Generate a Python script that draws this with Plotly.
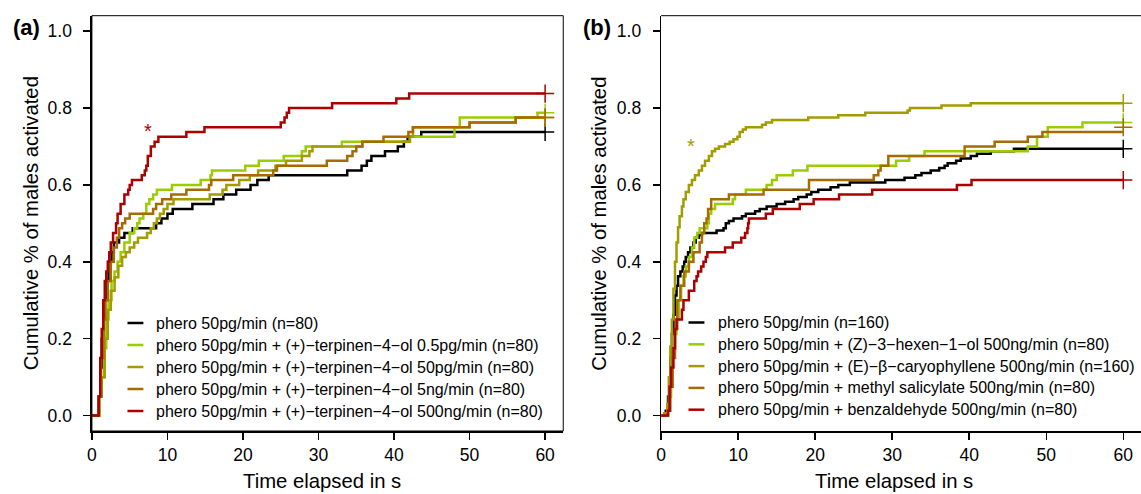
import plotly.graph_objects as go

W, H = 1141, 494
FONT = "Liberation Sans, Arial, Helvetica, sans-serif"

# ---------------- data (time in s, cumulative proportion) ----------------
# Panel (a)
black_a_t = [0, 0.9, 1.1, 1.3, 1.5, 1.7, 1.9, 2.2, 2.6, 2.9, 3.6, 4.3, 5.4, 8.5, 9.2, 10.0, 10.7, 13.3, 16.1, 17.4, 19.1, 21.0, 21.9, 23.4, 33.8, 35.7, 36.4, 37.0, 38.8, 40.5, 41.3, 41.8, 43.6, 60]
black_a_v = [0, 0.05, 0.125, 0.2, 0.25, 0.3, 0.35, 0.4, 0.425, 0.45, 0.4625, 0.475, 0.4875, 0.5, 0.5125, 0.525, 0.5375, 0.55, 0.5625, 0.575, 0.5875, 0.6, 0.6125, 0.625, 0.6375, 0.65, 0.6625, 0.675, 0.6875, 0.7, 0.7125, 0.725, 0.7375, 0.7375]

green_a_t = [0, 1.0, 1.3, 1.6, 1.9, 2.2, 2.6, 3.0, 3.4, 3.8, 4.3, 5.0, 5.6, 6.0, 6.3, 6.8, 7.2, 7.6, 8.1, 8.6, 10.6, 14.4, 15.7, 15.9, 20.3, 22.1, 25.4, 27.8, 28.3, 33.1, 42.1, 48.0, 48.7, 59.0, 60]
green_a_v = [0, 0.05, 0.1, 0.175, 0.25, 0.3, 0.35, 0.375, 0.4, 0.425, 0.45, 0.475, 0.4875, 0.5, 0.5125, 0.525, 0.55, 0.5625, 0.575, 0.5875, 0.6, 0.6125, 0.625, 0.6375, 0.65, 0.6625, 0.675, 0.6875, 0.7, 0.7125, 0.725, 0.75, 0.775, 0.7875, 0.7875]

olive_a_t = [0, 1.0, 1.3, 1.7, 2.1, 2.5, 3.0, 3.5, 4.0, 4.5, 5.0, 5.6, 6.1, 7.3, 7.8, 8.2, 8.6, 9.0, 9.5, 10.0, 10.8, 15.6, 17.3, 17.8, 19.5, 20.9, 22.0, 24.3, 25.7, 27.8, 28.8, 29.2, 35.8, 42.1, 42.5, 50.0, 56.1, 60]
olive_a_v = [0, 0.05, 0.1, 0.2, 0.275, 0.325, 0.36, 0.39, 0.4125, 0.425, 0.4375, 0.45, 0.4625, 0.475, 0.4875, 0.5, 0.5125, 0.525, 0.5375, 0.55, 0.5625, 0.575, 0.5875, 0.6, 0.6125, 0.625, 0.6375, 0.65, 0.6625, 0.675, 0.6875, 0.7, 0.7125, 0.725, 0.75, 0.7625, 0.775, 0.775]

brown_a_t = [0, 0.9, 1.2, 1.5, 1.8, 2.1, 2.5, 2.9, 3.3, 3.6, 4.0, 4.4, 5.0, 8.1, 8.5, 9.3, 10.5, 12.5, 15.5, 15.8, 18.7, 24.0, 24.5, 31.1, 33.8, 34.5, 35.0, 35.8, 38.6, 41.9, 42.5, 50.0, 56.1, 60]
brown_a_v = [0, 0.05, 0.15, 0.25, 0.3, 0.35, 0.4, 0.4375, 0.4625, 0.4875, 0.5, 0.5125, 0.525, 0.5375, 0.55, 0.5625, 0.575, 0.5875, 0.6, 0.6125, 0.625, 0.6375, 0.65, 0.6625, 0.675, 0.6875, 0.7, 0.7125, 0.725, 0.7375, 0.75, 0.7625, 0.775, 0.775]

red_a_t = [0, 0.9, 1.1, 1.3, 1.5, 1.7, 1.9, 2.1, 2.3, 2.5, 2.8, 3.2, 3.4, 3.8, 4.3, 4.8, 5.0, 5.3, 6.6, 7.0, 7.2, 7.4, 7.8, 8.3, 8.8, 12.5, 14.9, 25.0, 25.5, 25.8, 26.1, 31.8, 40.3, 42.0, 60]
red_a_v = [0, 0.05, 0.15, 0.225, 0.3, 0.35, 0.375, 0.4, 0.425, 0.45, 0.475, 0.5, 0.525, 0.55, 0.575, 0.5875, 0.6, 0.6125, 0.625, 0.6375, 0.65, 0.675, 0.7, 0.7125, 0.725, 0.7375, 0.75, 0.7625, 0.775, 0.7875, 0.8, 0.8125, 0.825, 0.8375, 0.8375]

# Panel (b)
black_b_t = [0, 0.6, 0.9, 1.2, 1.4, 1.6, 1.8, 2.0, 2.2, 2.5, 2.8, 3.0, 3.2, 3.5, 3.8, 4.2, 4.5, 4.9, 5.3, 7.2, 8.1, 8.4, 8.8, 9.4, 10.5, 11.0, 12.2, 12.8, 13.7, 15.0, 16.1, 17.2, 17.8, 18.9, 19.5, 20.4, 22.0, 23.0, 24.5, 29.1, 31.6, 33.0, 33.8, 35.0, 36.1, 36.8, 37.2, 38.3, 38.9, 40.2, 41.0, 42.8, 45.8, 60]
black_b_v = [0, 0.0125, 0.05, 0.15, 0.2125, 0.2625, 0.3125, 0.3375, 0.3625, 0.375, 0.3875, 0.4, 0.4125, 0.425, 0.4375, 0.45, 0.4625, 0.46875, 0.475, 0.48125, 0.4875, 0.5, 0.50625, 0.5125, 0.51875, 0.525, 0.53125, 0.5375, 0.54375, 0.55, 0.55625, 0.5625, 0.56875, 0.575, 0.58125, 0.5875, 0.59375, 0.6, 0.60625, 0.6125, 0.61875, 0.625, 0.63125, 0.6375, 0.64375, 0.65, 0.65625, 0.6625, 0.66875, 0.675, 0.68125, 0.6875, 0.69375, 0.69375]

green_b_t = [0, 0.8, 1.1, 1.3, 1.5, 1.8, 2.0, 2.3, 2.6, 2.9, 3.2, 3.6, 4.0, 4.3, 4.7, 5.0, 6.0, 6.2, 6.5, 7.0, 9.3, 9.6, 11.0, 13.7, 14.4, 15.0, 17.1, 19.0, 30.5, 32.2, 34.2, 47.6, 48.8, 50.2, 54.7, 60]
green_b_v = [0, 0.0125, 0.05, 0.125, 0.175, 0.2125, 0.25, 0.3, 0.3375, 0.3625, 0.3875, 0.4125, 0.4375, 0.4625, 0.475, 0.4875, 0.5, 0.525, 0.5375, 0.55, 0.5625, 0.575, 0.5875, 0.6, 0.6125, 0.625, 0.6375, 0.65, 0.6625, 0.675, 0.6875, 0.7, 0.725, 0.75, 0.7625, 0.7625]

olive_b_t = [0, 0.4, 0.8, 1.0, 1.2, 1.4, 1.6, 1.8, 2.0, 2.2, 2.4, 2.7, 2.9, 3.2, 3.6, 4.0, 4.4, 4.9, 5.3, 5.7, 6.2, 6.6, 7.0, 7.5, 8.3, 8.9, 9.4, 9.9, 10.2, 10.6, 11.0, 13.1, 13.6, 14.4, 19.1, 23.0, 26.5, 32.0, 32.3, 36.4, 40.2, 60]
olive_b_v = [0, 0.00625, 0.03, 0.1, 0.18, 0.25, 0.33, 0.4, 0.45, 0.49, 0.51875, 0.54375, 0.5625, 0.58125, 0.6, 0.6125, 0.625, 0.6375, 0.65, 0.6625, 0.675, 0.6875, 0.69375, 0.7, 0.70625, 0.7125, 0.71875, 0.725, 0.7375, 0.74375, 0.75, 0.75625, 0.7625, 0.76875, 0.775, 0.78125, 0.7875, 0.79375, 0.8, 0.80625, 0.8125, 0.8125]

brown_b_t = [0, 0.9, 1.2, 1.5, 1.8, 2.1, 2.5, 3.0, 3.6, 4.2, 5.0, 5.3, 5.6, 5.9, 6.1, 6.5, 8.8, 13.3, 19.2, 27.6, 28.2, 28.5, 29.5, 39.4, 43.3, 47.6, 49.5, 60]
brown_b_v = [0, 0.0125, 0.075, 0.15, 0.225, 0.3, 0.3375, 0.375, 0.4, 0.425, 0.45, 0.475, 0.5, 0.5125, 0.5375, 0.5625, 0.575, 0.5875, 0.6125, 0.625, 0.6375, 0.65, 0.675, 0.7, 0.7125, 0.725, 0.7375, 0.7375]

red_b_t = [0, 0.9, 1.1, 1.3, 1.6, 1.8, 2.0, 2.7, 2.9, 3.6, 4.3, 4.6, 4.8, 5.2, 5.5, 5.8, 6.0, 8.3, 9.3, 10.4, 10.9, 11.2, 11.3, 11.4, 13.6, 14.5, 18.0, 19.8, 23.1, 27.4, 38.4, 40.3, 60]
red_b_v = [0, 0.0125, 0.075, 0.125, 0.175, 0.225, 0.25, 0.275, 0.3, 0.325, 0.35, 0.3625, 0.375, 0.3875, 0.4, 0.4125, 0.425, 0.4375, 0.45, 0.4625, 0.475, 0.4875, 0.5, 0.5125, 0.525, 0.5375, 0.55, 0.5625, 0.575, 0.5875, 0.6, 0.6125, 0.6125]

# censoring marks at the end of follow-up
censor_t = 60
censor_a_v = [0.7375, 0.7875, 0.775, 0.775, 0.8375]
censor_b_v = [0.69375, 0.7625, 0.8125, 0.75, 0.6125]

labels_a = [
    "phero 50pg/min (n=80)",
    "phero 50pg/min + (+)\u2212terpinen\u22124\u2212ol 0.5pg/min (n=80)",
    "phero 50pg/min + (+)\u2212terpinen\u22124\u2212ol 50pg/min (n=80)",
    "phero 50pg/min + (+)\u2212terpinen\u22124\u2212ol 5ng/min (n=80)",
    "phero 50pg/min + (+)\u2212terpinen\u22124\u2212ol 500ng/min (n=80)",
]
labels_b = [
    "phero 50pg/min (n=160)",
    "phero 50pg/min + (Z)\u22123\u2212hexen\u22121\u2212ol 500ng/min (n=80)",
    "phero 50pg/min + (E)\u2212\u03b2\u2212caryophyllene 500ng/min (n=160)",
    "phero 50pg/min + methyl salicylate 500ng/min (n=80)",
    "phero 50pg/min + benzaldehyde 500ng/min (n=80)",
]

# significance stars: (time, level)
star_a = (7.4, 0.74)
star_b = (3.9, 0.70)

x_ticks = [0, 10, 20, 30, 40, 50, 60]
y_ticks = [0.0, 0.2, 0.4, 0.6, 0.8, 1.0]
y_ticktext = ["0.0", "0.2", "0.4", "0.6", "0.8", "1.0"]

colors = ["#000000", "#9ACD00", "#A39C00", "#A86A00", "#AC0000"]

series_a = [(black_a_t, black_a_v), (green_a_t, green_a_v), (olive_a_t, olive_a_v),
            (brown_a_t, brown_a_v), (red_a_t, red_a_v)]
series_b = [(black_b_t, black_b_v), (green_b_t, green_b_v), (olive_b_t, olive_b_v),
            (brown_b_t, brown_b_v), (red_b_t, red_b_v)]

# ---------------- figure ----------------
LW = 2.5
fig = go.Figure()


def add_panel(series, censor_v, xa, ya):
    for (t, v), c in zip(series, colors):
        fig.add_trace(go.Scatter(x=t, y=v, mode="lines", line=dict(color=c, width=LW, shape="hv"),
                                 xaxis=xa, yaxis=ya, showlegend=False, hoverinfo="skip"))
    for cv, c in zip(censor_v, colors):
        fig.add_trace(go.Scatter(x=[censor_t], y=[cv], mode="markers",
                                 marker=dict(symbol="cross-thin", size=13, color=c,
                                             line=dict(color=c, width=1.5)),
                                 xaxis=xa, yaxis=ya, showlegend=False, hoverinfo="skip"))


add_panel(series_a, censor_a_v, "x", "y")
add_panel(series_b, censor_b_v, "x2", "y2")

ydom = [1 - 431 / H, 1 - 15.7 / H]
xdom_a = [87.3 / W, 560.7 / W]
xdom_b = [659 / W, 1.0]

tickfont = dict(family=FONT, size=17.5, color="#000")
common_x = dict(range=[0, 62.4], tickmode="array", tickvals=x_ticks, ticks="outside", ticklen=7,
                tickwidth=1.5, tickcolor="#000", showline=True, linewidth=1.5, linecolor="#000",
                showgrid=False, zeroline=False, tickfont=tickfont, fixedrange=True)
common_y = dict(range=[-0.04, 1.04], tickmode="array", tickvals=y_ticks, ticktext=y_ticktext,
                ticks="outside", ticklen=7, tickwidth=1.5, tickcolor="#000", showline=True,
                linewidth=1.5, linecolor="#000", showgrid=False, zeroline=False, tickfont=tickfont,
                ticklabelstandoff=8, fixedrange=True)

fig.update_layout(
    width=W, height=H, margin=dict(l=0, r=0, t=0, b=0),
    paper_bgcolor="white", plot_bgcolor="white", showlegend=False,
    font=dict(family=FONT, color="#000"),
    xaxis=dict(domain=xdom_a, anchor="y", **common_x),
    yaxis=dict(domain=ydom, anchor="x", **common_y),
    xaxis2=dict(domain=xdom_b, anchor="y2", **dict(common_x, range=[0, 62.3])),
    yaxis2=dict(domain=ydom, anchor="x2", **common_y),
)

shapes = []
# box around panel (a); top line for panel (b) (its right edge falls outside the image)
shapes.append(dict(type="rect", xref="x domain", yref="y domain", x0=0, x1=1, y0=0, y1=1,
                   line=dict(color="#000", width=1)))
shapes.append(dict(type="line", xref="x2 domain", yref="y2 domain", x0=0, x1=1, y0=1, y1=1,
                   line=dict(color="#000", width=1)))

annotations = []


def px(x):
    return x / W


def py(y):
    return 1 - y / H


def add_legend(labels, line_x0, line_x1, text_x, row0, gap):
    for i, (lab, c) in enumerate(zip(labels, colors)):
        yy = row0 + i * gap
        shapes.append(dict(type="line", xref="paper", yref="paper", x0=px(line_x0), x1=px(line_x1),
                           y0=py(yy), y1=py(yy), line=dict(color=c, width=LW)))
        annotations.append(dict(text=lab, xref="paper", yref="paper", x=px(text_x), y=py(yy),
                                xanchor="left", yanchor="middle", showarrow=False,
                                font=dict(family=FONT, size=16, color="#000")))


add_legend(labels_a, 123, 139, 150, 323, 22)
add_legend(labels_b, 686.5, 702.5, 714, 322.5, 21.8)

# axis titles
for xc in (27, 597):
    annotations.append(dict(text="Cumulative % of males activated", xref="paper", yref="paper",
                            x=px(xc), y=py(223.4), textangle=-90, xanchor="center", yanchor="middle",
                            showarrow=False, font=dict(family=FONT, size=20.3, color="#000")))
for xc in (318, 893):
    annotations.append(dict(text="Time elapsed in s", xref="paper", yref="paper",
                            x=px(xc), y=py(481), xanchor="center", yanchor="middle",
                            showarrow=False, font=dict(family=FONT, size=20.3, color="#000")))

# panel letters
for lab, xc in (("(a)", 22), ("(b)", 595)):
    annotations.append(dict(text="<b>%s</b>" % lab, xref="paper", yref="paper",
                            x=px(xc), y=py(27), xanchor="center", yanchor="middle",
                            showarrow=False, font=dict(family=FONT, size=22, color="#000")))

# significance stars
annotations.append(dict(text="*", xref="x", yref="y", x=star_a[0], y=star_a[1], showarrow=False,
                        xanchor="center", yanchor="middle",
                        font=dict(family=FONT, size=20, color=colors[4])))
annotations.append(dict(text="*", xref="x2", yref="y2", x=star_b[0], y=star_b[1], showarrow=False,
                        xanchor="center", yanchor="middle",
                        font=dict(family=FONT, size=20, color=colors[2])))

fig.update_layout(shapes=shapes, annotations=annotations)

post = ("document.documentElement.style.margin='0';document.documentElement.style.overflow='hidden';"
        "document.body.style.margin='0';document.body.style.padding='0';document.body.style.overflow='hidden';")
fig.write_html("out.html", post_script=post, config=dict(displayModeBar=False, staticPlot=True))
